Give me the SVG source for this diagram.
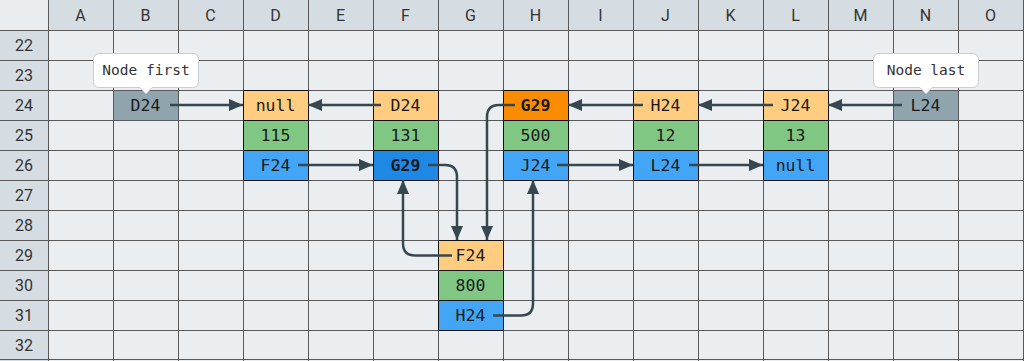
<svg xmlns="http://www.w3.org/2000/svg" width="1024" height="361" viewBox="0 0 1024 361">
<style>
.hdr{font-family:Roboto,"Liberation Sans",sans-serif;font-size:16px;fill:#333;text-anchor:middle}
.cell{font-family:"DejaVu Sans Mono","Liberation Mono",monospace;font-size:16.5px;fill:#1a1a1a;text-anchor:middle}
.b{font-weight:bold}
.tip{font-family:"DejaVu Sans Mono","Liberation Mono",monospace;font-size:14.5px;fill:#333;text-anchor:middle}
.grid{stroke:#595959;stroke-width:1}
.box{stroke:#111;stroke-width:1}
.y{fill:#ffcc80}.g{fill:#81c784}.bl{fill:#42a5f5}.db{fill:#1e88e5}.o{fill:#fb8c00}.gr{fill:#90a4ae}
.conn path{fill:none;stroke:#37474f;stroke-width:2.5;marker-end:url(#ah)}
</style>
<defs>
<marker id="ah" markerUnits="userSpaceOnUse" markerWidth="14" markerHeight="12" refX="14" refY="6" orient="auto">
<path d="M0,0 L14,6 L0,12 z" fill="#37474f"/>
</marker>
</defs>
<g id="sheet">
<rect x="0" y="0" width="1024" height="361" fill="#eaeef1"/>
<rect x="0" y="0" width="1024" height="30" fill="#d5dde3"/>
<rect x="0" y="30" width="48" height="331" fill="#d5dde3"/>
<rect x="0" y="0" width="48" height="30" fill="#e9edf0"/>
<g class="grid">
<line x1="48.5" y1="0" x2="48.5" y2="361"/><line x1="113.5" y1="0" x2="113.5" y2="361"/><line x1="178.5" y1="0" x2="178.5" y2="361"/><line x1="243.5" y1="0" x2="243.5" y2="361"/><line x1="308.5" y1="0" x2="308.5" y2="361"/><line x1="373.5" y1="0" x2="373.5" y2="361"/><line x1="438.5" y1="0" x2="438.5" y2="361"/><line x1="503.5" y1="0" x2="503.5" y2="361"/><line x1="568.5" y1="0" x2="568.5" y2="361"/><line x1="633.5" y1="0" x2="633.5" y2="361"/><line x1="698.5" y1="0" x2="698.5" y2="361"/><line x1="763.5" y1="0" x2="763.5" y2="361"/><line x1="828.5" y1="0" x2="828.5" y2="361"/><line x1="893.5" y1="0" x2="893.5" y2="361"/><line x1="958.5" y1="0" x2="958.5" y2="361"/><line x1="1023.5" y1="0" x2="1023.5" y2="361"/>
<line x1="0" y1="30.5" x2="1024" y2="30.5"/><line x1="0" y1="60.5" x2="1024" y2="60.5"/><line x1="0" y1="90.5" x2="1024" y2="90.5"/><line x1="0" y1="120.5" x2="1024" y2="120.5"/><line x1="0" y1="150.5" x2="1024" y2="150.5"/><line x1="0" y1="180.5" x2="1024" y2="180.5"/><line x1="0" y1="210.5" x2="1024" y2="210.5"/><line x1="0" y1="240.5" x2="1024" y2="240.5"/><line x1="0" y1="270.5" x2="1024" y2="270.5"/><line x1="0" y1="300.5" x2="1024" y2="300.5"/><line x1="0" y1="330.5" x2="1024" y2="330.5"/><line x1="0" y1="359.5" x2="1024" y2="359.5"/>
</g>
<g class="hdr">
<text x="80.5" y="21">A</text><text x="145.5" y="21">B</text><text x="210.5" y="21">C</text><text x="275.5" y="21">D</text><text x="340.5" y="21">E</text><text x="405.5" y="21">F</text><text x="470.5" y="21">G</text><text x="535.5" y="21">H</text><text x="600.5" y="21">I</text><text x="665.5" y="21">J</text><text x="730.5" y="21">K</text><text x="795.5" y="21">L</text><text x="860.5" y="21">M</text><text x="925.5" y="21">N</text><text x="990.5" y="21">O</text>
<text x="24" y="51">22</text><text x="24" y="81">23</text><text x="24" y="111">24</text><text x="24" y="141">25</text><text x="24" y="171">26</text><text x="24" y="201">27</text><text x="24" y="231">28</text><text x="24" y="261">29</text><text x="24" y="291">30</text><text x="24" y="321">31</text><text x="24" y="351">32</text>
</g>
</g>
<g id="node-first-pointer">
<rect class="gr" x="114" y="91" width="64" height="29"/>
<text class="cell" x="145.5" y="111">D24</text>
</g>
<g id="node-D">
<rect class="y box" x="243.5" y="90.5" width="65" height="30"/>
<rect class="g box" x="243.5" y="120.5" width="65" height="30"/>
<rect class="bl box" x="243.5" y="150.5" width="65" height="30"/>
<text class="cell" x="275.5" y="111">null</text><text class="cell" x="275.5" y="141">115</text><text class="cell" x="275.5" y="171">F24</text>
</g>
<g id="node-F">
<rect class="y box" x="373.5" y="90.5" width="65" height="30"/>
<rect class="g box" x="373.5" y="120.5" width="65" height="30"/>
<rect class="db box" x="373.5" y="150.5" width="65" height="30"/>
<text class="cell" x="405.5" y="111">D24</text><text class="cell" x="405.5" y="141">131</text><text class="cell b" x="405.5" y="171">G29</text>
</g>
<g id="node-G">
<rect class="y box" x="438.5" y="240.5" width="65" height="30"/>
<rect class="g box" x="438.5" y="270.5" width="65" height="30"/>
<rect class="bl box" x="438.5" y="300.5" width="65" height="30"/>
<text class="cell" x="470.5" y="261">F24</text><text class="cell" x="470.5" y="291">800</text><text class="cell" x="470.5" y="321">H24</text>
</g>
<g id="node-H">
<rect class="o box" x="503.5" y="90.5" width="65" height="30"/>
<rect class="g box" x="503.5" y="120.5" width="65" height="30"/>
<rect class="bl box" x="503.5" y="150.5" width="65" height="30"/>
<text class="cell b" x="535.5" y="111">G29</text><text class="cell" x="535.5" y="141">500</text><text class="cell" x="535.5" y="171">J24</text>
</g>
<g id="node-J">
<rect class="y box" x="633.5" y="90.5" width="65" height="30"/>
<rect class="g box" x="633.5" y="120.5" width="65" height="30"/>
<rect class="bl box" x="633.5" y="150.5" width="65" height="30"/>
<text class="cell" x="665.5" y="111">H24</text><text class="cell" x="665.5" y="141">12</text><text class="cell" x="665.5" y="171">L24</text>
</g>
<g id="node-L">
<rect class="y box" x="763.5" y="90.5" width="65" height="30"/>
<rect class="g box" x="763.5" y="120.5" width="65" height="30"/>
<rect class="bl box" x="763.5" y="150.5" width="65" height="30"/>
<text class="cell" x="795.5" y="111">J24</text><text class="cell" x="795.5" y="141">13</text><text class="cell" x="795.5" y="171">null</text>
</g>
<g id="node-last-pointer">
<rect class="gr" x="894" y="91" width="64" height="29"/>
<text class="cell" x="925.5" y="111">L24</text>
</g>
<g id="callout-first">
<path d="M99.5,53.5 H192.5 Q198.5,53.5 198.5,59.5 V81.5 Q198.5,87.5 192.5,87.5 H152 L146,94 L140,87.5 H99.5 Q93.5,87.5 93.5,81.5 V59.5 Q93.5,53.5 99.5,53.5 Z" fill="#fff" stroke="#c8cdd2" stroke-width="1"/>
<text class="tip" x="146" y="75">Node first</text>
</g>
<g id="callout-last">
<path d="M879.5,53.5 H972.5 Q978.5,53.5 978.5,59.5 V81.5 Q978.5,87.5 972.5,87.5 H932 L926,94 L920,87.5 H879.5 Q873.5,87.5 873.5,81.5 V59.5 Q873.5,53.5 879.5,53.5 Z" fill="#fff" stroke="#c8cdd2" stroke-width="1"/>
<text class="tip" x="926" y="75">Node last</text>
</g>
<g id="connectors" class="conn">
<path d="M170,105 H243"/>
<path d="M381,105 H308"/>
<path d="M298,165 H373"/>
<path d="M428,165 H445 Q457,165 457,177 V240"/>
<path d="M515,105 H499 Q487,105 487,117 V240"/>
<path d="M452,255.5 H415 Q403,255.5 403,243.5 V180"/>
<path d="M493,315.5 H521 Q533,315.5 533,303.5 V180"/>
<path d="M557,165 H633"/>
<path d="M689,165 H763"/>
<path d="M643,105 H568"/>
<path d="M773,105 H698"/>
<path d="M902,105 H828"/>
</g>
</svg>
